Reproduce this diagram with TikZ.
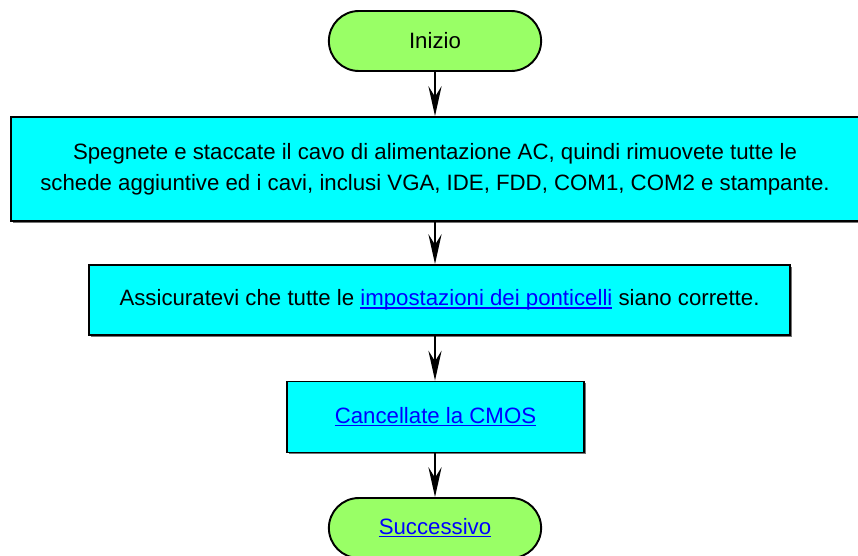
\documentclass[tikz,border=0pt]{standalone}
\usepackage{fontspec}
\setmainfont{Liberation Sans}
\usetikzlibrary{positioning,shapes.misc,arrows.meta,shadows}
\definecolor{termgreen}{HTML}{99FF66}
\definecolor{boxcyan}{HTML}{00FFFF}
\definecolor{linkblue}{HTML}{0000FF}
\newcommand{\lnk}[1]{\textcolor{linkblue}{%
  \setbox0\hbox{#1}\rlap{\rule[-1.6pt]{\wd0}{0.75pt}}\box0}}

\begin{document}
\begin{tikzpicture}[
  x=0.02cm, y=-0.02cm,
  term/.style={draw, rounded rectangle, fill=termgreen, line width=1.1pt,
               minimum width=4.48cm, minimum height=1.2cm},
  proc/.style={draw, fill=boxcyan, line width=1.1pt, align=center,
               drop shadow={shadow xshift=1pt, shadow yshift=-1pt,
                            fill=black!55, opacity=1}},
  arr/.style={-{Stealth[length=17pt, width=7.5pt, inset=6pt]}, line width=1.1pt},
  font=\fontsize{12.65}{17.6}\selectfont,
]
\useasboundingbox (0,0) rectangle (858,555);

% ---- Terminals and steps, top to bottom ----
\node[term] (start) at (435, 41) {Inizio};

\node[proc, minimum width=16.96cm, minimum height=2.08cm] (unplug) at (435, 169)
  {Spegnete e staccate il cavo di alimentazione AC, quindi rimuovete tutte le\\
   schede aggiuntive ed i cavi, inclusi VGA, IDE, FDD, COM1, COM2 e stampante.};

\node[proc, minimum width=14.02cm, minimum height=1.4cm] (jumpers) at (439.5, 300)
  {Assicuratevi che tutte le \lnk{impostazioni dei ponticelli} siano corrette.};

\node[proc, minimum width=5.94cm, minimum height=1.42cm] (clearcmos) at (435.5, 417)
  {\lnk{Cancellate la CMOS}};

\node[term] (next) at (435, 528) {\lnk{Successivo}};

% ---- Connectors ----
\draw[arr] (start.south) -- (unplug.north -| start.south);
\draw[arr] (unplug.south -| start.south) -- (jumpers.north -| start.south);
\draw[arr] (jumpers.south -| start.south) -- (clearcmos.north -| start.south);
\draw[arr] (clearcmos.south -| start.south) -- (next.north);

\end{tikzpicture}
\end{document}
